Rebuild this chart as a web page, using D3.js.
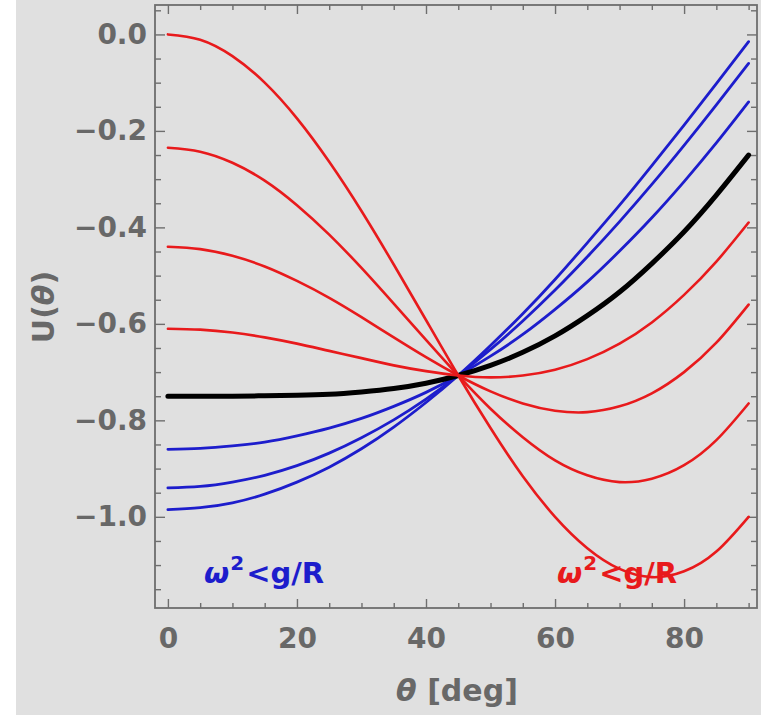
<!DOCTYPE html>
<html>
<head>
<meta charset="utf-8">
<script src="https://cdn.jsdelivr.net/npm/d3@7"></script>
<style>
  body { margin: 0; background: #fff; }
  svg { display: block; }
  text { font-family: "DejaVu Sans", sans-serif; font-weight: bold; }
</style>
</head>
<body>
<div id="chart"></div>
<script>
// theta in degrees, 5 deg steps
var theta = [0, 5, 10, 15, 20, 25, 30, 35, 40, 45, 50, 55, 60, 65, 70, 75, 80, 85, 90];

// red curves (top to bottom at theta = 0)
var red1 = [0, -0.011, -0.045, -0.100, -0.174, -0.264, -0.366, -0.477, -0.592, -0.707, -0.816, -0.916, -1.000, -1.065, -1.108, -1.125, -1.113, -1.072, -1.000];
var red2 = [-0.235, -0.243, -0.266, -0.303, -0.354, -0.415, -0.484, -0.558, -0.633, -0.707, -0.776, -0.835, -0.883, -0.914, -0.928, -0.921, -0.893, -0.841, -0.765];
var red3 = [-0.44, -0.445, -0.459, -0.481, -0.511, -0.546, -0.586, -0.628, -0.669, -0.707, -0.740, -0.765, -0.780, -0.783, -0.771, -0.744, -0.700, -0.639, -0.56];
var red4 = [-0.61, -0.612, -0.618, -0.628, -0.641, -0.656, -0.671, -0.686, -0.698, -0.707, -0.711, -0.707, -0.695, -0.673, -0.641, -0.597, -0.540, -0.471, -0.39];
// black (critical) curve
var black = [-0.75, -0.750, -0.750, -0.749, -0.748, -0.746, -0.741, -0.734, -0.723, -0.707, -0.686, -0.659, -0.625, -0.583, -0.534, -0.475, -0.409, -0.333, -0.25];
// blue curves
var blue1 = [-0.86, -0.858, -0.853, -0.845, -0.832, -0.816, -0.796, -0.771, -0.742, -0.707, -0.667, -0.622, -0.570, -0.513, -0.449, -0.380, -0.305, -0.225, -0.14];
var blue2 = [-0.94, -0.937, -0.928, -0.914, -0.894, -0.868, -0.836, -0.799, -0.756, -0.707, -0.653, -0.594, -0.530, -0.461, -0.388, -0.311, -0.230, -0.146, -0.06];
var blue3 = [-0.985, -0.981, -0.971, -0.953, -0.928, -0.897, -0.859, -0.814, -0.763, -0.707, -0.645, -0.579, -0.508, -0.432, -0.354, -0.272, -0.188, -0.102, -0.015];

var xTicks = [0, 20, 40, 60, 80];
var yTicks = [0, -0.2, -0.4, -0.6, -0.8, -1.0];

var W = 761, H = 715;
var plotL = 155, plotR = 757, plotT = 5, plotB = 608;
var axisColor = "#6e6e6e";
var textColor = "#686868";
var redC = "#e81a1c", blueC = "#1d1dcc";

var svg = d3.select("#chart").append("svg")
  .attr("width", W)
  .attr("height", H);

// background (narrow white strip on the left edge)
svg.append("rect").attr("x", 16).attr("y", 0)
  .attr("width", W - 16).attr("height", H).attr("fill", "#e0e0e0");

var x = d3.scaleLinear().domain([-2, 91.3]).range([plotL, plotR]);
var y = d3.scaleLinear().domain([-1.189, 0.061]).range([plotB, plotT]);

var xMinor = d3.range(0, 91, 5).filter(function(d) { return d % 20 !== 0; });
var yMinor = d3.range(-1.15, 0.051, 0.05).map(function(d) { return +d.toFixed(2); })
  .filter(function(d) { return Math.abs(Math.round(d * 5) - d * 5) > 1e-6; });

function styleAxis(g) {
  g.select(".domain").remove();
  g.selectAll("line").attr("stroke", axisColor).attr("stroke-width", 1.4);
  g.selectAll("text").attr("fill", textColor).style("font-size", "28px")
    .style("font-family", "DejaVu Sans, sans-serif").style("font-weight", "bold");
}

// major ticks (inward) with labels
svg.append("g").attr("transform", "translate(0," + plotB + ")")
  .call(d3.axisBottom(x).tickValues(xTicks).tickSize(-9).tickPadding(20).tickFormat(d3.format("d")))
  .call(styleAxis);
svg.append("g").attr("transform", "translate(" + plotL + ",0)")
  .call(d3.axisLeft(y).tickValues(yTicks).tickSize(-10).tickPadding(8).tickFormat(d3.format(".1f")))
  .call(styleAxis);
svg.append("g").attr("transform", "translate(0," + plotT + ")")
  .call(d3.axisTop(x).tickValues(xTicks).tickSize(-9).tickFormat(""))
  .call(styleAxis);
svg.append("g").attr("transform", "translate(" + plotR + ",0)")
  .call(d3.axisRight(y).tickValues(yTicks).tickSize(-10).tickFormat(""))
  .call(styleAxis);

// minor ticks
svg.append("g").attr("transform", "translate(0," + plotB + ")")
  .call(d3.axisBottom(x).tickValues(xMinor).tickSize(-5).tickFormat("")).call(styleAxis);
svg.append("g").attr("transform", "translate(0," + plotT + ")")
  .call(d3.axisTop(x).tickValues(xMinor).tickSize(-5).tickFormat("")).call(styleAxis);
svg.append("g").attr("transform", "translate(" + plotL + ",0)")
  .call(d3.axisLeft(y).tickValues(yMinor).tickSize(-6).tickFormat("")).call(styleAxis);
svg.append("g").attr("transform", "translate(" + plotR + ",0)")
  .call(d3.axisRight(y).tickValues(yMinor).tickSize(-6).tickFormat("")).call(styleAxis);

// frame
svg.append("rect")
  .attr("x", plotL).attr("y", plotT)
  .attr("width", plotR - plotL).attr("height", plotB - plotT)
  .attr("fill", "none").attr("stroke", axisColor).attr("stroke-width", 1.8);

var line = d3.line()
  .x(function(d, i) { return x(theta[i]); })
  .y(function(d) { return y(d); })
  .curve(d3.curveNatural);

var curves = [
  {v: blue1, c: blueC, w: 2.8},
  {v: blue2, c: blueC, w: 2.8},
  {v: blue3, c: blueC, w: 2.8},
  {v: black, c: "#000000", w: 5},
  {v: red1, c: redC, w: 2.6},
  {v: red2, c: redC, w: 2.6},
  {v: red3, c: redC, w: 2.6},
  {v: red4, c: redC, w: 2.6}
];

svg.append("g").selectAll("path")
  .data(curves)
  .enter()
  .append("path")
  .attr("d", function(d) { return line(d.v); })
  .attr("fill", "none")
  .attr("stroke", function(d) { return d.c; })
  .attr("stroke-width", function(d) { return d.w; })
  .attr("stroke-linecap", "round");

// annotations
function omegaLabel(px, color) {
  var t = svg.append("text").attr("x", px).attr("y", 583)
    .attr("fill", color).style("font-size", "29px");
  t.append("tspan").style("font-style", "italic").text("ω");
  t.append("tspan").attr("dx", 1).attr("dy", -13).style("font-size", "20px").text("2");
  t.append("tspan").attr("dx", 2).attr("dy", 13).text("<g/R");
}
omegaLabel(204, blueC);
omegaLabel(557, redC);

// axis titles
var yl = svg.append("text")
  .attr("transform", "translate(54,307) rotate(-90)")
  .attr("text-anchor", "middle")
  .attr("fill", textColor).style("font-size", "30px");
yl.append("tspan").text("U(");
yl.append("tspan").style("font-style", "italic").text("θ");
yl.append("tspan").text(")");

var xl = svg.append("text")
  .attr("x", 457).attr("y", 701)
  .attr("text-anchor", "middle")
  .attr("fill", textColor).style("font-size", "30px");
xl.append("tspan").style("font-style", "italic").text("θ");
xl.append("tspan").text(" [deg]");
</script>
</body>
</html>
